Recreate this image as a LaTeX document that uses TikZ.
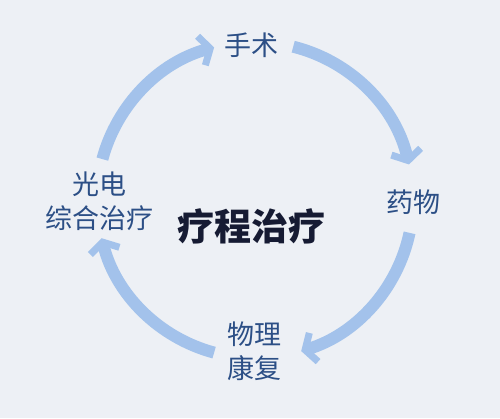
\documentclass[tikz,border=0pt]{standalone}
\usepackage{fontspec}
\newfontfamily\cjk{Noto Sans CJK SC}
\usetikzlibrary{arrows.meta}
\definecolor{bgcol}{HTML}{EDF0F5}
\definecolor{arcblue}{HTML}{A3C2EB}
\definecolor{labblue}{HTML}{2C4F86}
\definecolor{navy}{HTML}{161B33}

\begin{document}
\begin{tikzpicture}[x=1pt, y=1pt,
    lab/.style = {font=\cjk\fontsize{27}{34}\selectfont, text=labblue, align=center, inner sep=0pt},
    flow/.style = {draw=arcblue, line width=12pt, -{Straight Barb[length=9pt, width=30pt, line width=7pt]}}]
    \fill[bgcol] (0,0) rectangle (500,418);
    \useasboundingbox (0,0) rectangle (500,418);
    \coordinate (o) at (255,218);

    \node[lab] (surg) at (251,373) {手术};
    \node[lab] (drug) at (413,216) {药物};
    \node[lab] (rehab) at (254,67) {物理\\康复};
    \node[lab] (photo) at (99,217) {光电\\综合治疗};
    \node[font=\cjk\bfseries\fontsize{37}{42}\selectfont, text=navy] (course) at (251,192) {疗程治疗};

    \foreach \a/\b in {165/105, 76/13, -12/-73, -105/-166}
        \draw[flow] (o) ++(\a:158) arc[start angle=\a, end angle=\b, radius=158];

\end{tikzpicture}
\end{document}
